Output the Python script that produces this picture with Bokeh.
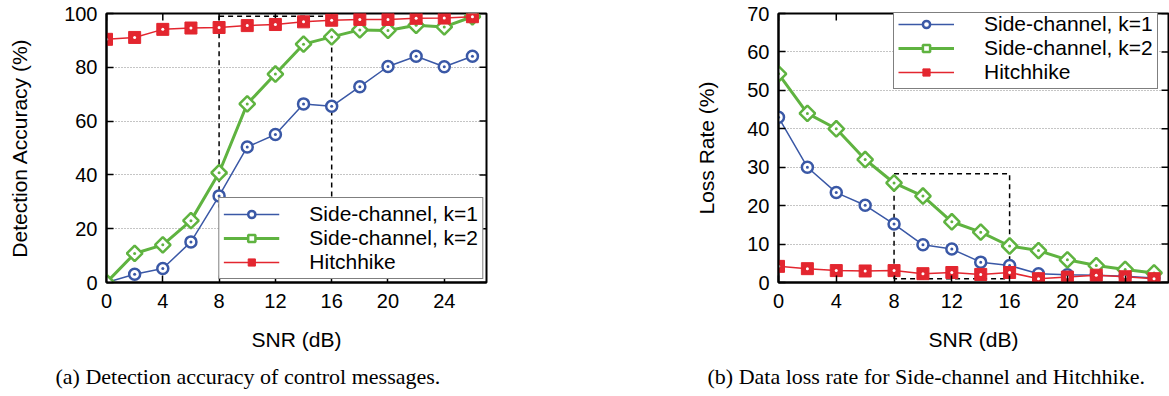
import numpy as np
from bokeh.plotting import figure
from bokeh.models import (FixedTicker, Legend, LegendItem, Title, Range1d)
from bokeh.layouts import row
from bokeh.embed import file_html
from bokeh.resources import INLINE

# ---------------- data ----------------
snr = [0, 2, 4, 6, 8, 10, 12, 14, 16, 18, 20, 22, 24, 26]

acc_k1 = [0, 3.1, 5.2, 15.1, 32.2, 50.4, 55.0, 66.4, 65.5, 72.8, 80.3, 84.1, 80.2, 84.1]
acc_k2 = [0, 10.8, 14.0, 23.0, 40.8, 66.4, 77.5, 88.6, 91.3, 93.9, 93.7, 95.6, 95.0, 98.8]
acc_hh = [90.4, 91.1, 94.1, 94.6, 94.8, 95.5, 95.9, 96.9, 97.5, 97.8, 97.8, 98.2, 98.3, 98.8]

loss_k1 = [43.0, 30.0, 23.4, 20.1, 15.2, 9.8, 8.7, 5.3, 4.4, 2.3, 2.0, 1.9, 1.6, 1.2]
loss_k2 = [54.3, 44.0, 40.0, 32.0, 25.9, 22.5, 15.8, 13.1, 9.5, 8.3, 5.9, 4.4, 3.4, 2.5]
loss_hh = [4.2, 3.6, 3.1, 3.0, 3.1, 2.3, 2.6, 2.1, 2.6, 1.0, 1.4, 1.9, 1.5, 1.0]

acc_box_snr = [8, 16]
acc_box_val = [28, 99]
loss_box_snr = [8, 16]
loss_box_val = [1, 28.3]

x_ticks = [0, 4, 8, 12, 16, 20, 24]
acc_ticks = [0, 20, 40, 60, 80, 100]
loss_ticks = [0, 10, 20, 30, 40, 50, 60, 70]
x_max = 27

series_names = ["Side-channel, k=1", "Side-channel, k=2", "Hitchhike"]

BLUE = "#3a58a6"
GREEN = "#5fb340"
RED = "#e3262f"
SANS = "Liberation Sans"
SERIF = "Liberation Serif"


def make_panel(values, yticks, ymax, ylabel, box_x, box_y, caption,
               width, mb_left, mb_right, mb_top, mb_bottom,
               legend_loc, legend_margin, label_standoff, cap_offset):
    p = figure(width=width, height=396, x_range=Range1d(0, x_max), y_range=Range1d(0, ymax),
               output_backend="svg", toolbar_location=None,
               min_border_left=mb_left, min_border_right=mb_right,
               min_border_top=mb_top, min_border_bottom=mb_bottom)
    p.background_fill_color = "white"
    p.border_fill_color = "white"
    p.outline_line_color = "black"
    p.outline_line_width = 2

    p.xgrid.visible = False
    p.ygrid.ticker = FixedTicker(ticks=yticks)
    p.ygrid.grid_line_color = "#8a8a8a"
    p.ygrid.grid_line_dash = "1 2"
    p.ygrid.grid_line_width = 1

    for ax, ticks in ((p.xaxis[0], x_ticks), (p.yaxis[0], yticks)):
        ax.ticker = FixedTicker(ticks=ticks)
        ax.axis_line_color = "black"
        ax.axis_line_width = 2
        ax.major_tick_in = 7
        ax.major_tick_out = 0
        ax.major_tick_line_width = 1.5
        ax.minor_tick_line_color = None
        ax.major_label_text_font = SANS
        ax.major_label_text_font_size = "20px"
        ax.major_label_text_color = "black"
        ax.axis_label_text_font = SANS
        ax.axis_label_text_font_size = "21px"
        ax.axis_label_text_font_style = "normal"
        ax.axis_label_text_color = "black"
    p.xaxis[0].axis_label = "SNR (dB)"
    p.xaxis[0].major_label_standoff = 11
    p.xaxis[0].axis_label_standoff = 17
    p.yaxis[0].axis_label = ylabel
    p.yaxis[0].major_label_standoff = 9
    p.yaxis[0].axis_label_standoff = label_standoff

    # mirrored tick marks on the right and top borders (screen-length rays)
    p.ray(x=[x_max] * len(yticks), y=yticks, length=7, length_units="screen",
          angle=np.pi, line_color="black", line_width=1.5)
    p.ray(x=x_ticks, y=[ymax] * len(x_ticks), length=7, length_units="screen",
          angle=-np.pi / 2, line_color="black", line_width=1.5)

    # dashed zoom box
    p.quad(left=[box_x[0]], right=[box_x[1]], bottom=[box_y[0]], top=[box_y[1]],
           fill_color=None, line_color="black", line_width=1.5, line_dash="5 4")

    items = []
    styles = [
        (BLUE, "circle", 11, 1.5, 0),
        (GREEN, "square", 11, 3, np.pi / 4),
        (RED, "square", 12, 1.5, 0),
    ]
    for name, vals, (col, mk, sz, lw, ang) in zip(series_names, values, styles):
        ln = p.line(snr, vals, line_color=col, line_width=lw)
        if col == RED:
            sc = p.scatter(snr, vals, marker=mk, size=sz, fill_color=col,
                           line_color=col, line_width=1, angle=ang)
            p.scatter(snr, vals, marker="circle", size=3, fill_color="white",
                      line_color=None)
        else:
            sc = p.scatter(snr, vals, marker=mk, size=sz, fill_color="white",
                           line_color=col, line_width=2.5, angle=ang)
            p.scatter(snr, vals, marker="circle", size=3, fill_color=col,
                      line_color=None)
        items.append(LegendItem(label=name, renderers=[ln, sc]))

    leg = Legend(items=items, location=legend_loc, margin=legend_margin,
                 border_line_color="black", border_line_width=1.5,
                 background_fill_color="white", background_fill_alpha=1,
                 label_text_font=SANS, label_text_font_size="21px",
                 label_text_color="black", label_text_line_height=0.85,
                 glyph_width=56, glyph_height=18, label_height=18,
                 label_standoff=30, spacing=0, padding=4)
    p.add_layout(leg)

    t = Title(text=caption, align="left", offset=cap_offset,
              text_font=SERIF, text_font_size="22px", text_font_style="normal",
              text_color="black", standoff=16)
    p.add_layout(t, "below")
    return p


p1 = make_panel([acc_k1, acc_k2, acc_hh], acc_ticks, 100, "Detection Accuracy (%)",
                acc_box_snr, acc_box_val, "(a) Detection accuracy of control messages.",
                590, 106, 104, 11, 114, "bottom_right", 3, 30, -51)
p2 = make_panel([loss_k1, loss_k2, loss_hh], loss_ticks, 70, "Loss Rate (%)",
                loss_box_snr, loss_box_val, "(b) Data loss rate for Side-channel and Hitchhike.",
                579, 188, 1, 13, 113, (115, 193), 0, 26, -71)

layout = row(p1, p2)
open("out.html", "w").write(file_html(layout, INLINE))
